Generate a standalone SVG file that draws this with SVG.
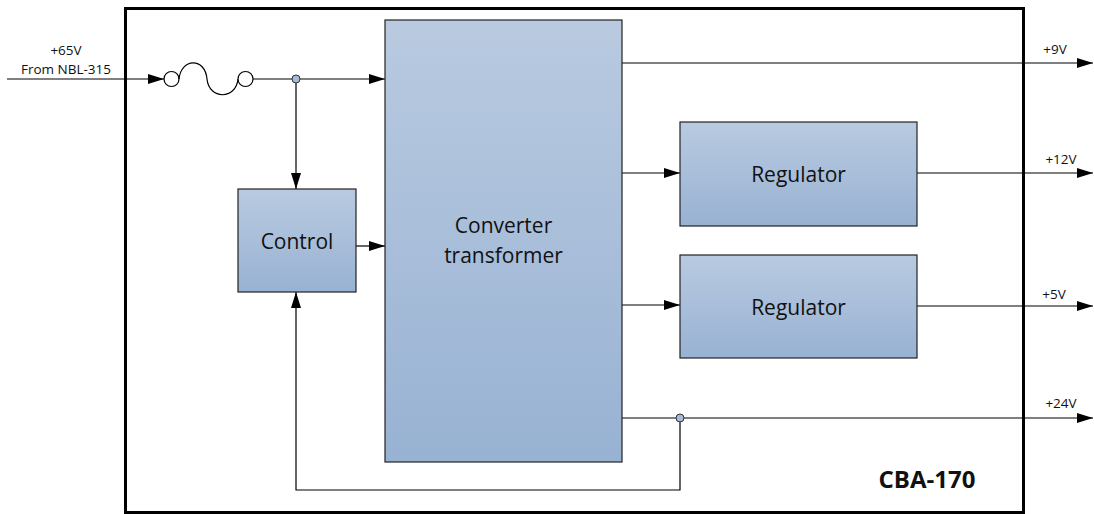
<svg xmlns="http://www.w3.org/2000/svg" width="1094" height="514" viewBox="0 0 1094 514">
<defs>
<linearGradient id="g" x1="0" y1="0" x2="0" y2="1">
<stop offset="0" stop-color="#b9cae0"/>
<stop offset="1" stop-color="#98b2d3"/>
</linearGradient>
<marker id="a" viewBox="0 0 16 10" refX="16" refY="5" markerWidth="16" markerHeight="10" markerUnits="userSpaceOnUse" orient="auto">
<path d="M0,0 L16,5 L0,10 Z" fill="#000"/>
</marker>
<style>
.box{fill:url(#g);stroke:#222;stroke-width:1.2}
.ln{fill:none;stroke:#000;stroke-width:1.2}
.lbl{font-family:"Open Sans","Liberation Sans",sans-serif;font-size:21px;fill:#111;text-anchor:middle}
.sm{font-family:"Open Sans","Liberation Sans",sans-serif;font-size:13.5px;fill:#111;text-anchor:middle}
.dot{fill:#a6bcd9;stroke:#333;stroke-width:1}
</style>
</defs>
<rect width="1094" height="514" fill="#fff"/>
<g id="frame">
<rect x="125.5" y="8.5" width="898" height="504" fill="none" stroke="#000" stroke-width="3"/>
<text x="927" y="488" font-family="'Open Sans','Liberation Sans',sans-serif" font-size="24" font-weight="bold" text-anchor="middle" fill="#111">CBA-170</text>
</g>
<g id="connectors">
<line class="ln" x1="7" y1="79" x2="164" y2="79" marker-end="url(#a)"/>
<text class="sm" x="66" y="55">+65V</text>
<text class="sm" x="66" y="74">From NBL-315</text>
<circle cx="171.5" cy="79" r="7.5" fill="#fff" stroke="#000" stroke-width="1.2"/>
<path class="ln" d="M179,79 C181,58 205,57 207,79 C209,100 236,100 238,79"/>
<circle cx="245.5" cy="79" r="7.5" fill="#fff" stroke="#000" stroke-width="1.2"/>
<line class="ln" x1="253" y1="79" x2="385" y2="79" marker-end="url(#a)"/>
<line class="ln" x1="296" y1="79" x2="296" y2="189" marker-end="url(#a)"/>
<line class="ln" x1="356" y1="246" x2="385" y2="246" marker-end="url(#a)"/>
<polyline class="ln" points="680,418 680,490 296,490 296,292" marker-end="url(#a)"/>
<line class="ln" x1="622" y1="63" x2="1093" y2="63" marker-end="url(#a)"/>
<text class="sm" x="1055" y="54">+9V</text>
<line class="ln" x1="622" y1="173" x2="680" y2="173" marker-end="url(#a)"/>
<line class="ln" x1="917" y1="173" x2="1093" y2="173" marker-end="url(#a)"/>
<text class="sm" x="1061" y="164">+12V</text>
<line class="ln" x1="622" y1="305" x2="680" y2="305" marker-end="url(#a)"/>
<line class="ln" x1="917" y1="306" x2="1093" y2="306" marker-end="url(#a)"/>
<text class="sm" x="1054" y="299">+5V</text>
<line class="ln" x1="622" y1="418" x2="1093" y2="418" marker-end="url(#a)"/>
<text class="sm" x="1061" y="408">+24V</text>
<circle class="dot" cx="296" cy="79" r="4"/>
<circle class="dot" cx="680" cy="418" r="4"/>
</g>
<g id="converter">
<rect class="box" x="385" y="20" width="237" height="442"/>
<text class="lbl" x="503.5" y="233">Converter</text>
<text class="lbl" x="503.5" y="263">transformer</text>
</g>
<g id="control">
<rect class="box" x="238" y="189" width="118" height="103"/>
<text class="lbl" x="297" y="249">Control</text>
</g>
<g id="regulator1">
<rect class="box" x="680" y="122" width="237" height="104"/>
<text class="lbl" x="798.5" y="182">Regulator</text>
</g>
<g id="regulator2">
<rect class="box" x="680" y="255" width="237" height="103"/>
<text class="lbl" x="798.5" y="315">Regulator</text>
</g>
</svg>
